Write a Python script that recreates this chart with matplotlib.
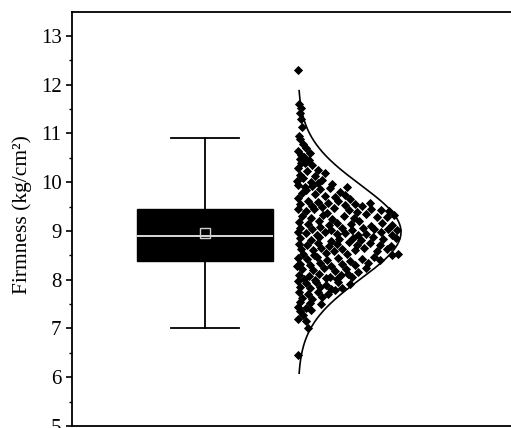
import numpy as np
import matplotlib
matplotlib.use("Agg")
import matplotlib.pyplot as plt

plt.rcParams["font.family"] = ["Liberation Serif", "DejaVu Serif"]

# box statistics (kg/cm2)
box_q1, box_med, box_q3 = 8.39, 8.89, 9.45
box_mean = 8.96
whisker_lo, whisker_hi = 7.0, 10.9

# individual measurements: y value and horizontal jitter position
pts_y = [
    12.30, 11.61, 11.53, 11.42, 11.30, 11.14,
    10.89, 10.79, 10.64, 10.71, 10.55, 10.60, 10.95, 10.52,
    10.40, 10.40, 10.30, 10.35, 10.22, 10.15, 10.25, 10.08, 10.12, 10.02, 10.05, 10.45, 10.18, 10.47, 10.00,
    9.95, 9.90, 9.93, 9.85, 9.88, 9.80, 9.78, 9.75, 9.72, 9.70, 9.74, 9.65, 9.68, 9.62,
    9.60, 9.58, 9.62, 9.55, 9.52, 9.55, 9.52, 9.50, 9.53, 9.58, 9.83, 9.97, 9.90, 9.98,
    9.45, 9.41, 9.44, 9.37, 9.47, 9.42, 9.39, 9.45, 9.43, 9.40,
    9.31, 9.27, 9.33, 9.24, 9.30, 9.26, 9.34, 9.29, 9.28, 9.32,
    9.19, 9.14, 9.21, 9.12, 9.17, 9.15, 9.20, 9.10, 9.16, 9.12,
    9.06, 9.03, 9.08, 9.01, 9.06, 9.02, 9.07, 9.04, 9.05, 9.02,
    8.97, 8.95, 8.92, 8.98, 8.93, 8.96, 8.91, 8.94, 8.97, 8.92,
    8.85, 8.82, 8.87, 8.80, 8.84, 8.86, 8.81, 8.88, 8.83, 8.85,
    8.74, 8.72, 8.76, 8.70, 8.73, 8.77, 8.71, 8.75, 8.72, 8.70,
    8.62, 8.60, 8.65, 8.58, 8.63, 8.61, 8.66, 8.59, 8.62, 8.52,
    8.53, 8.51, 8.55, 8.52, 8.50,
    8.45, 8.42, 8.47, 8.40, 8.44, 8.38, 8.43, 8.46,
    8.33, 8.30, 8.35, 8.28, 8.32, 8.30, 8.34,
    8.22, 8.20, 8.24, 8.18, 8.22, 8.16,
    8.10, 8.08, 8.12, 8.06, 8.10, 8.05,
    8.02, 8.00, 8.03, 8.01, 8.12, 8.25, 8.40, 8.28,
    7.97, 7.93, 7.95, 7.90, 7.96, 7.92, 7.85, 7.82, 7.86, 7.80, 7.84,
    7.74, 7.71, 7.75, 7.70, 7.63, 7.60, 7.64, 7.55, 7.52, 7.50, 7.78,
    7.45, 7.42, 7.35, 7.38, 7.28, 7.20, 7.15, 7.00, 6.45,
]
pts_x = [
    298, 299, 301, 300, 301, 302,
    300, 303, 298, 306, 301, 310, 299, 304,
    301, 305, 298, 312, 307, 300, 318, 303, 315, 297, 322, 309, 325, 300, 311,
    298, 305, 312, 320, 330, 340, 302, 315, 325, 335, 345, 350, 298, 308,
    318, 328, 338, 355, 362, 300, 312, 322, 345, 370, 306, 332, 347, 318,
    298, 306, 314, 327, 334, 349, 357, 371, 381, 389,
    302, 311, 323, 332, 344, 354, 366, 377, 387, 394,
    299, 308, 319, 329, 337, 351, 359, 371, 382, 392,
    300, 312, 320, 331, 342, 352, 363, 374, 388, 397,
    298, 306, 317, 325, 337, 345, 358, 366, 381, 392,
    300, 311, 319, 331, 339, 353, 361, 373, 383, 396,
    299, 307, 318, 329, 337, 349, 357, 370, 380, 391,
    301, 313, 321, 334, 342, 355, 364, 377, 387, 398,
    303, 314, 326, 347, 392,
    298, 307, 317, 327, 338, 350, 362, 374,
    300, 310, 320, 331, 342, 355, 368,
    302, 313, 324, 335, 346, 358,
    299, 309, 319, 330, 341, 352,
    304, 315, 326, 337, 348, 366, 380, 297,
    298, 306, 316, 326, 338, 350, 300, 310, 320, 331, 342,
    299, 308, 318, 328, 302, 312, 322, 300, 310, 321, 335,
    298, 306, 300, 311, 303, 298, 306, 308, 298,
]

fig = plt.figure(figsize=(5.11, 4.28), dpi=100)
ax = fig.add_axes([72 / 511, 2 / 428, 448 / 511, 414.5 / 428])

# box
stats = [dict(med=box_med, q1=box_q1, q3=box_q3, whislo=whisker_lo,
              whishi=whisker_hi, mean=box_mean, fliers=[])]
ax.bxp(stats, positions=[205], widths=136, showmeans=True, patch_artist=True,
       boxprops=dict(facecolor="black", edgecolor="black", linewidth=1),
       medianprops=dict(color="white", linewidth=1.2),
       whiskerprops=dict(color="black", linewidth=1.3),
       capprops=dict(color="black", linewidth=1.3),
       capwidths=68,
       meanprops=dict(marker="s", markerfacecolor="none", markeredgecolor="#d0d0d0",
                      markersize=7.5, markeredgewidth=1.0))

# points
ax.scatter(pts_x, pts_y, marker="D", s=22, color="black", zorder=3, linewidths=0)

# normal curve from the data
y = np.array(pts_y)
mu, sd = y.mean(), y.std(ddof=1)
yy = np.linspace(mu - 3 * sd, mu + 3 * sd, 300)
dens = np.exp(-0.5 * ((yy - mu) / sd) ** 2)
ax.plot(298 + 103 * dens, yy, color="black", linewidth=1.2, zorder=4)

ax.set_xlim(72, 520)
ax.set_ylim(5, 13.5)
ax.set_yticks(range(5, 14))
ax.set_yticks(np.arange(5.5, 13.5, 1), minor=True)
ax.set_xticks([])
ax.tick_params(axis="y", which="major", length=4.5, width=1.2, labelsize=15, pad=3)
ax.tick_params(axis="y", which="minor", length=2.5, width=1.0)
for s in ["left", "top", "bottom"]:
    ax.spines[s].set_linewidth(1.3)
ax.spines["right"].set_visible(False)
ax.set_ylabel("Firmness (kg/cm²)", fontsize=15.5)
ax.yaxis.set_label_coords(-0.09, 0.51)

fig.savefig("out.png", dpi=100)
